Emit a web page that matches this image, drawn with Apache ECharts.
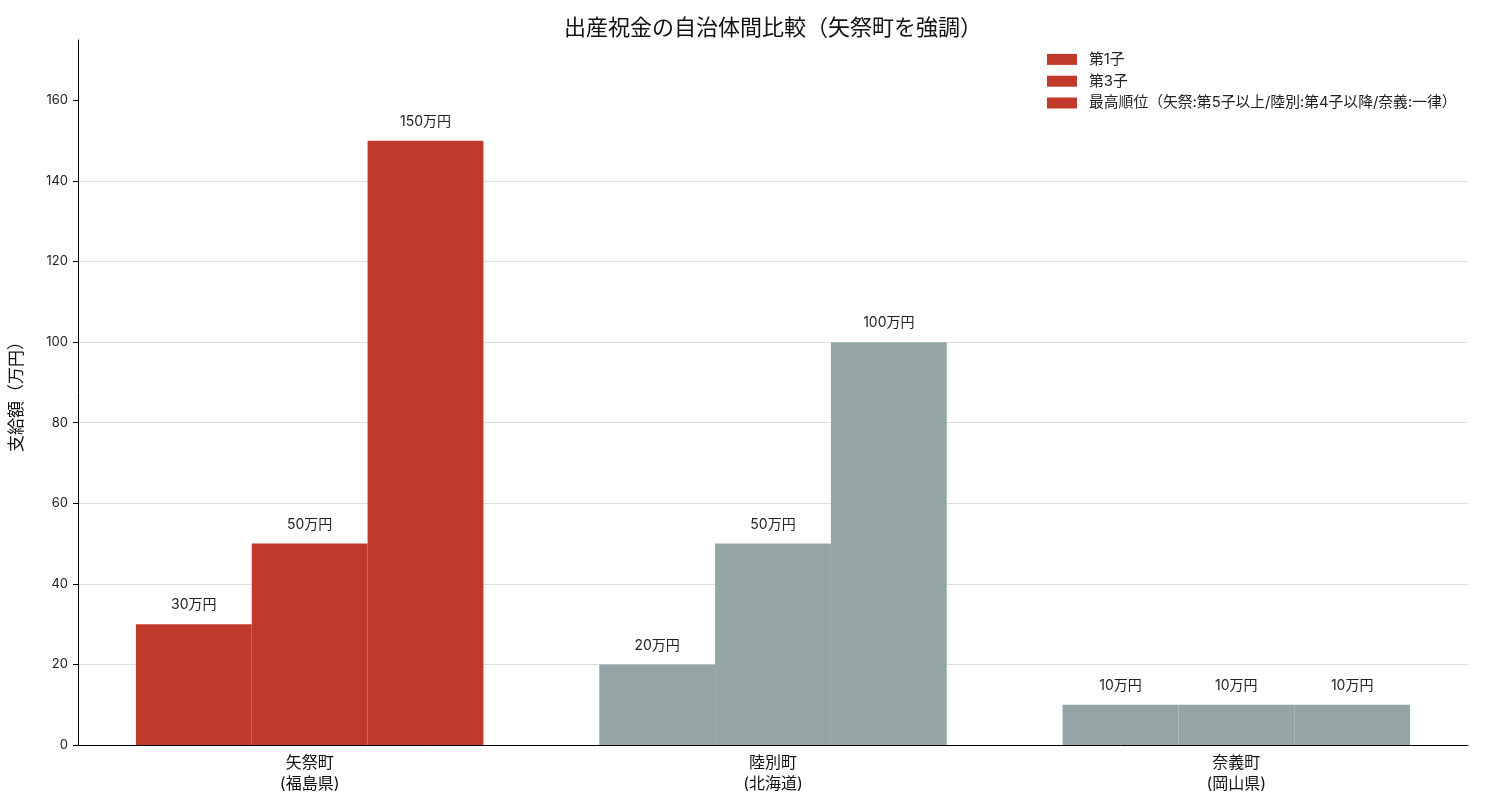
<!DOCTYPE html>
<html>
<head>
<meta charset="utf-8">
<script src="https://cdn.jsdelivr.net/npm/echarts@6/dist/echarts.min.js"></script>
<style>
  html, body { margin: 0; padding: 0; background: #fff; }
  #chart { width: 1485px; height: 810px; }
</style>
</head>
<body>
<div id="chart"></div>
<script>
// Data
const categories = ['矢祭町\n(福島県)', '陸別町\n(北海道)', '奈義町\n(岡山県)'];
const seriesNames = ['第1子', '第3子', '最高順位（矢祭:第5子以上/陸別:第4子以降/奈義:一律）'];
const firstChild = [30, 20, 10];
const thirdChild = [50, 50, 10];
const topRank = [150, 100, 10];
const yTicks = [0, 20, 40, 60, 80, 100, 120, 140, 160];

const HIGHLIGHT = '#c0392b';
const OTHER = '#95a5a6';
const FONT = 'Inter, "Noto Sans CJK JP", sans-serif';

function buildSeries(name, values) {
  return {
    name: name,
    type: 'bar',
    barWidth: '25%',
    barGap: '0%',
    itemStyle: { color: HIGHLIGHT },
    label: {
      show: true,
      position: 'top',
      distance: 12,
      fontSize: 14,
      color: '#222',
      fontFamily: FONT,
      formatter: (p) => p.value + '万円',
    },
    data: values.map((v, idx) => ({
      value: v,
      itemStyle: { color: idx === 0 ? HIGHLIGHT : OTHER },
    })),
  };
}

const chart = echarts.init(document.getElementById('chart'));
chart.setOption({
  animation: false,
  textStyle: { fontFamily: FONT },
  title: {
    text: '出産祝金の自治体間比較（矢祭町を強調）',
    left: 768,
    textAlign: 'center',
    top: 12,
    textStyle: { fontSize: 22, fontWeight: 'normal', color: '#111', fontFamily: FONT },
  },
  legend: {
    orient: 'vertical',
    left: 1042,
    top: 47,
    itemWidth: 30,
    itemHeight: 11,
    itemGap: 7,
    icon: 'rect',
    textStyle: { fontSize: 14.8, color: '#222', fontFamily: FONT, padding: [0, 0, 0, 7] },
    data: seriesNames,
  },
  grid: { left: 77, right: 17, top: 40, bottom: 65 },
  xAxis: {
    type: 'category',
    data: categories,
    axisLine: { lineStyle: { color: '#000' } },
    axisTick: { alignWithLabel: true, length: 5, lineStyle: { color: '#000' } },
    axisLabel: { fontSize: 16, color: '#111', lineHeight: 21, margin: 8, fontFamily: FONT },
  },
  yAxis: {
    type: 'value',
    min: 0,
    max: 175,
    interval: 20,
    name: '支給額（万円）',
    nameLocation: 'middle',
    nameRotate: 90,
    nameGap: 53,
    nameTextStyle: { fontSize: 17, color: '#111', fontFamily: FONT },
    axisLine: { show: true, lineStyle: { color: '#000' } },
    axisTick: { show: true, length: 5, lineStyle: { color: '#000' }, customValues: yTicks },
    axisLabel: { fontSize: 13, color: '#222', margin: 10, fontFamily: FONT, customValues: yTicks },
    splitLine: { show: true, showMaxLine: false, lineStyle: { color: '#dddddd', width: 1 } },
  },
  series: [
    buildSeries(seriesNames[0], firstChild),
    buildSeries(seriesNames[1], thirdChild),
    buildSeries(seriesNames[2], topRank),
  ],
});
</script>
</body>
</html>
